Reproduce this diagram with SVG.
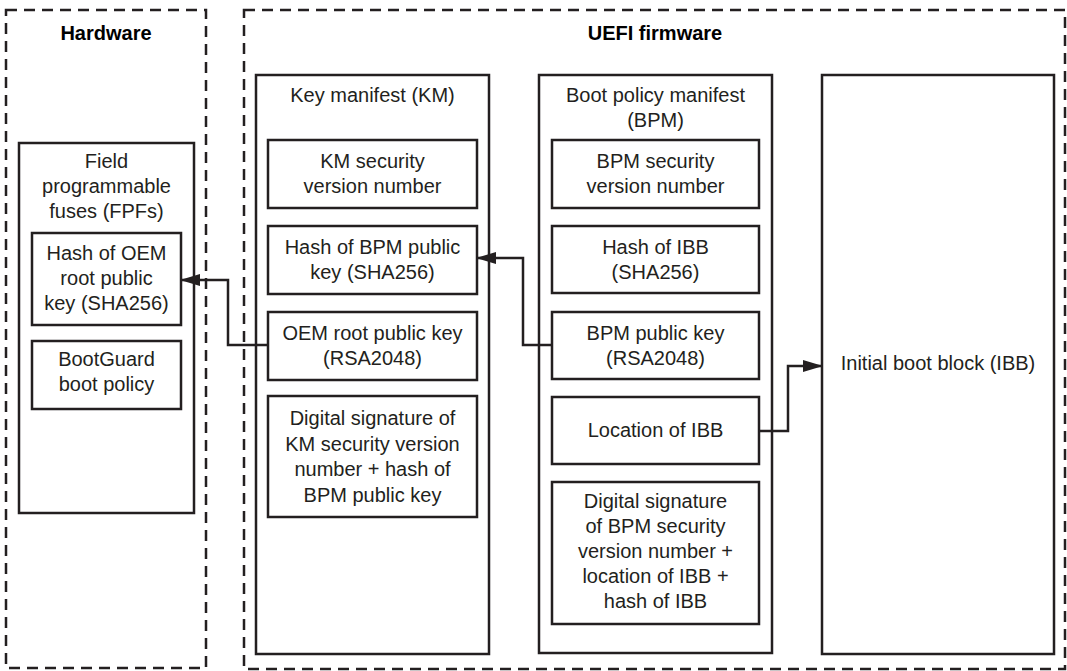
<svg xmlns="http://www.w3.org/2000/svg" width="1067" height="671" viewBox="0 0 1067 671">
<style>
.dash{fill:none;stroke:#231f20;stroke-width:2.5;stroke-dasharray:11 7}
.box{fill:#fff;stroke:#231f20;stroke-width:2.5}
.t{font-family:"Liberation Sans",Arial,sans-serif;font-size:20px;fill:#231f20;text-anchor:middle}
.h{font-family:"Liberation Sans",Arial,sans-serif;font-size:20px;font-weight:bold;fill:#000;text-anchor:middle}
.conn{fill:none;stroke:#231f20;stroke-width:2.5}
</style>
<defs>
<marker id="arr" markerUnits="userSpaceOnUse" markerWidth="20" markerHeight="12" refX="19" refY="6" orient="auto">
<path d="M0,0 L20,6 L0,12 z" fill="#231f20"/>
</marker>
</defs>
<rect width="1067" height="671" fill="#fff"/>

<g id="hardware">
<rect class="dash" x="6" y="10" width="200" height="658"/>
<text class="h" x="106" y="40">Hardware</text>
</g>
<g id="uefi">
<rect class="dash" x="244" y="10" width="821" height="659"/>
<text class="h" x="655" y="40">UEFI firmware</text>
</g>

<g id="fpf">
<rect class="box" x="19" y="143" width="175" height="370"/>
<text class="t" x="106.5" y="168">Field</text>
<text class="t" x="106.5" y="193">programmable</text>
<text class="t" x="106.5" y="218">fuses (FPFs)</text>
</g>
<g id="oem-hash">
<rect class="box" x="32" y="233" width="149" height="92"/>
<text class="t" x="106.5" y="260">Hash of OEM</text>
<text class="t" x="106.5" y="285">root public</text>
<text class="t" x="106.5" y="310">key (SHA256)</text>
</g>
<g id="bootguard">
<rect class="box" x="32" y="341" width="149" height="68"/>
<text class="t" x="106.5" y="366">BootGuard</text>
<text class="t" x="106.5" y="391">boot policy</text>
</g>

<g id="km">
<rect class="box" x="256" y="75" width="233" height="579"/>
<text class="t" x="372.5" y="102">Key manifest (KM)</text>
</g>
<g id="km-svn">
<rect class="box" x="268" y="140" width="209" height="68"/>
<text class="t" x="372.5" y="168">KM security</text>
<text class="t" x="372.5" y="193">version number</text>
</g>
<g id="km-bpmhash">
<rect class="box" x="268" y="226" width="209" height="68"/>
<text class="t" x="372.5" y="254">Hash of BPM public</text>
<text class="t" x="372.5" y="279">key (SHA256)</text>
</g>
<g id="km-oemkey">
<rect class="box" x="268" y="312" width="209" height="68"/>
<text class="t" x="372.5" y="340">OEM root public key</text>
<text class="t" x="372.5" y="365">(RSA2048)</text>
</g>
<g id="km-sig">
<rect class="box" x="268" y="396" width="209" height="121"/>
<text class="t" x="372.5" y="425">Digital signature of</text>
<text class="t" x="372.5" y="451">KM security version</text>
<text class="t" x="372.5" y="476">number + hash of</text>
<text class="t" x="372.5" y="502">BPM public key</text>
</g>

<g id="bpm">
<rect class="box" x="539" y="75" width="233" height="578"/>
<text class="t" x="655.5" y="102">Boot policy manifest</text>
<text class="t" x="655.5" y="127">(BPM)</text>
</g>
<g id="bpm-svn">
<rect class="box" x="552" y="140" width="207" height="68"/>
<text class="t" x="655.5" y="168">BPM security</text>
<text class="t" x="655.5" y="193">version number</text>
</g>
<g id="bpm-ibbhash">
<rect class="box" x="552" y="226" width="207" height="67"/>
<text class="t" x="655.5" y="254">Hash of IBB</text>
<text class="t" x="655.5" y="279">(SHA256)</text>
</g>
<g id="bpm-key">
<rect class="box" x="552" y="312" width="207" height="67"/>
<text class="t" x="655.5" y="340">BPM public key</text>
<text class="t" x="655.5" y="365">(RSA2048)</text>
</g>
<g id="bpm-loc">
<rect class="box" x="552" y="397" width="207" height="67"/>
<text class="t" x="655.5" y="437">Location of IBB</text>
</g>
<g id="bpm-sig">
<rect class="box" x="552" y="482" width="207" height="142"/>
<text class="t" x="655.5" y="508">Digital signature</text>
<text class="t" x="655.5" y="533">of BPM security</text>
<text class="t" x="655.5" y="558">version number +</text>
<text class="t" x="655.5" y="583">location of IBB +</text>
<text class="t" x="655.5" y="608">hash of IBB</text>
</g>

<g id="ibb">
<rect class="box" x="822" y="75" width="232" height="579"/>
<text class="t" x="938" y="370">Initial boot block (IBB)</text>
</g>

<g id="connectors">
<path class="conn" d="M268,345 H228 V280 H181" marker-end="url(#arr)"/>
<path class="conn" d="M552,345 H523 V258 H477" marker-end="url(#arr)"/>
<path class="conn" d="M759,431 H788 V366 H822" marker-end="url(#arr)"/>
</g>
</svg>
